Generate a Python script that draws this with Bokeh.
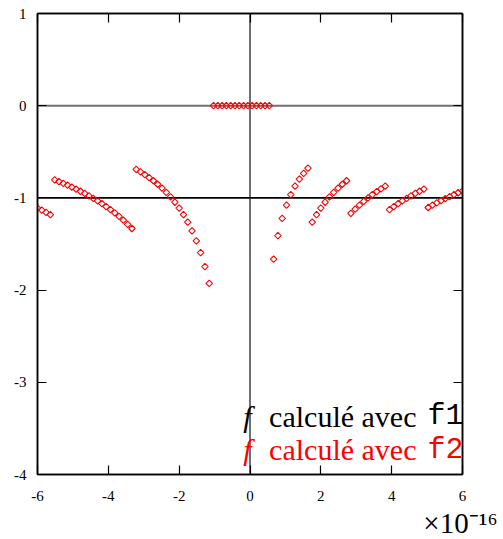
from bokeh.plotting import figure
from bokeh.models import (Range1d, LinearAxis, FixedTicker, Span, Label, Title,
                          CustomJSTickFormatter, ColumnDataSource)
from bokeh.embed import file_html
from bokeh.resources import INLINE

# Sample points, in units of 1e-16
x = [-6.0000, -5.8788, -5.7576, -5.6364, -5.5152, -5.3939, -5.2727, -5.1515,
     -5.0303, -4.9091, -4.7879, -4.6667, -4.5455, -4.4242, -4.3030, -4.1818,
     -4.0606, -3.9394, -3.8182, -3.6970, -3.5758, -3.4545, -3.3333, -3.2121,
     -3.0909, -2.9697, -2.8485, -2.7273, -2.6061, -2.4848, -2.3636, -2.2424,
     -2.1212, -2.0000, -1.8788, -1.7576, -1.6364, -1.5152, -1.3939, -1.2727,
     -1.1515, -1.0303, -0.9091, -0.7879, -0.6667, -0.5455, -0.4242, -0.3030,
     -0.1818, -0.0606,
     0.0606, 0.1818, 0.3030, 0.4242, 0.5455, 0.6667, 0.7879, 0.9091,
     1.0303, 1.1515, 1.2727, 1.3939, 1.5152, 1.6364, 1.7576, 1.8788,
     2.0000, 2.1212, 2.2424, 2.3636, 2.4848, 2.6061, 2.7273, 2.8485,
     2.9697, 3.0909, 3.2121, 3.3333, 3.4545, 3.5758, 3.6970, 3.8182,
     3.9394, 4.0606, 4.1818, 4.3030, 4.4242, 4.5455, 4.6667, 4.7879,
     4.9091, 5.0303, 5.1515, 5.2727, 5.3939, 5.5152, 5.6364, 5.7576,
     5.8788, 6.0000]

# f evaluated with the first formula (exact)
f1 = [-1.0] * len(x)

# f evaluated with the second formula (rounding in 1 - x)
f2 = [-1.110, -1.133, -1.157, -1.182, -0.805, -0.823, -0.842, -0.862,
      -0.883, -0.905, -0.928, -0.952, -0.977, -1.004, -1.032, -1.062,
      -1.094, -1.127, -1.163, -1.201, -1.242, -1.286, -1.332, -0.691,
      -0.718, -0.748, -0.780, -0.814, -0.852, -0.894, -0.939, -0.990,
      -1.047, -1.110, -1.182, -1.263, -1.357, -1.466, -1.593, -1.745,
      -1.928, 0.0, 0.0, 0.0, 0.0, 0.0, 0.0, 0.0,
      0.0, 0.0,
      0.0, 0.0, 0.0, 0.0, 0.0, -1.665, -1.409, -1.221,
      -1.078, -0.964, -0.872, -0.797, -0.733, -0.678, -1.263, -1.182,
      -1.110, -1.047, -0.990, -0.939, -0.894, -0.852, -0.814, -1.169,
      -1.122, -1.078, -1.037, -0.999, -0.964, -0.932, -0.901, -0.872,
      -1.127, -1.094, -1.062, -1.032, -1.004, -0.977, -0.952, -0.928,
      -0.905, -1.104, -1.078, -1.053, -1.029, -1.007, -0.985, -0.964,
      -0.944, -0.925]

x_ticks = [-6, -4, -2, 0, 2, 4, 6]
x_tick_labels = ["-6", "-4", "-2", "0", "2", "4", "6"]
y_ticks = [-4, -3, -2, -1, 0, 1]
y_tick_labels = ["-4", "-3", "-2", "-1", "0", "1"]
x_multiplier = "×10⁻¹⁶"

legend_rows = [("calculé avec", "f1", "black"), ("calculé avec", "f2", "red")]

SERIF = "Liberation Serif"
MONO = "Liberation Mono"

p = figure(width=503, height=539, x_range=Range1d(-6, 6), y_range=Range1d(-4, 1),
           output_backend="svg", toolbar_location=None,
           min_border_left=37, min_border_right=41, min_border_top=13,
           min_border_bottom=65, background_fill_color="white",
           border_fill_color="white")
p.outline_line_color = "black"
p.outline_line_width = 1.5
p.xgrid.visible = False
p.ygrid.visible = False


def style_axis(ax):
    ax.major_tick_in = 9
    ax.major_tick_out = 0
    ax.minor_tick_in = 0
    ax.minor_tick_out = 0
    ax.axis_line_color = "black"
    ax.axis_line_width = 1.5
    ax.major_tick_line_color = "black"
    ax.major_tick_line_width = 1.2
    ax.major_label_text_font = SERIF
    ax.major_label_text_font_size = "15px"
    ax.major_label_text_color = "black"


style_axis(p.xaxis[0])
p.xaxis[0].ticker = FixedTicker(ticks=x_ticks)
p.xaxis[0].major_label_overrides = dict(zip(x_ticks, x_tick_labels))
p.xaxis[0].major_label_standoff = 16

style_axis(p.yaxis[0])
p.yaxis[0].ticker = FixedTicker(ticks=y_ticks)
p.yaxis[0].major_label_overrides = dict(zip(y_ticks, y_tick_labels))
p.yaxis[0].major_label_standoff = 11

blank = CustomJSTickFormatter(code="return ''")
top_axis = LinearAxis(ticker=FixedTicker(ticks=x_ticks), formatter=blank)
style_axis(top_axis)
p.add_layout(top_axis, "above")
right_axis = LinearAxis(ticker=FixedTicker(ticks=y_ticks), formatter=blank)
style_axis(right_axis)
p.add_layout(right_axis, "right")

# power-of-ten multiplier for the x axis, under the right end
p.add_layout(Title(text=x_multiplier, align="right", offset=-35, standoff=2,
                   text_font=SERIF, text_font_size="29px",
                   text_font_style="normal", text_color="black"), "below")

# zero axes
p.add_layout(Span(location=0, dimension="width", line_color="#707070",
                  line_width=2, level="underlay"))
p.add_layout(Span(location=0, dimension="height", line_color="#707070",
                  line_width=2, level="underlay"))

src = ColumnDataSource(dict(x=x, f1=f1, f2=f2))
p.line("x", "f1", source=src, line_color="black", line_width=1.6)
p.scatter("x", "f2", source=src, marker="square", angle=0.785398, size=4.6,
          line_color="red", fill_color=None, line_width=1.1)

# legend text, right-aligned on the frame edge
base_y = [-3.496, -3.86]
for (word, code, col), yb in zip(legend_rows, base_y):
    p.add_layout(Label(x=6, y=yb, x_offset=1, y_offset=12, text=code,
                       text_font=MONO, text_font_size="30px", text_color=col,
                       text_align="right", text_baseline="alphabetic"))
    p.add_layout(Label(x=6, y=yb, x_offset=-46, y_offset=12, text=word,
                       text_font=SERIF, text_font_size="30px", text_color=col,
                       text_align="right", text_baseline="alphabetic"))
    p.add_layout(Label(x=6, y=yb, x_offset=-211, y_offset=12, text="f",
                       text_font=SERIF, text_font_style="italic",
                       text_font_size="30px", text_color=col,
                       text_align="right", text_baseline="alphabetic"))

open("out.html", "w").write(file_html(p, INLINE))
